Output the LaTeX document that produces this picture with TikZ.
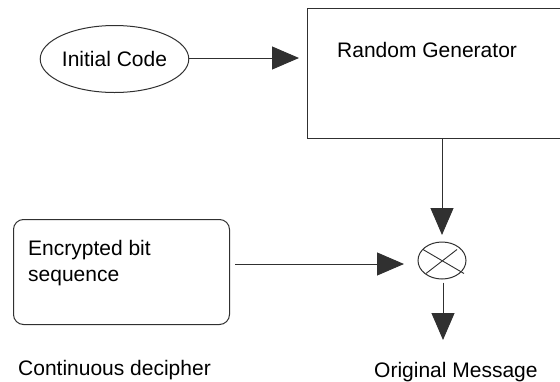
\documentclass[tikz,border=0pt]{standalone}
\usepackage{fontspec}
\setmainfont{Liberation Sans}
\usetikzlibrary{shapes.geometric,arrows.meta,calc}
\definecolor{linec}{HTML}{303030}
\tikzset{
  lbl/.style={inner sep=0pt, font=\fontsize{21pt}{26pt}\selectfont, text=black},
  conn/.style={draw=linec, line width=1pt, -{Triangle[length=27pt,width=23pt]}},
  shp/.style={draw=linec, line width=1pt}
}
\begin{document}
\begin{tikzpicture}[x=1pt,y=-1pt]
\useasboundingbox (0,0) rectangle (560,381);
\begin{scope}
\clip (0,0) rectangle (560,381);
% Initial code ellipse
\node[shp, ellipse, minimum width=135pt, minimum height=67pt, inner sep=0pt, lbl] (init) at (114.5,59) {Initial Code};
% Random generator box
\node[shp, rectangle, minimum width=262pt, minimum height=130pt, anchor=north west, inner sep=0pt] (gen) at (307,8) {};
\node[lbl, anchor=base west] (gent) at (337,57) {Random Generator};
% Encrypted bit sequence box
\node[shp, rectangle, rounded corners=10pt, minimum width=216pt, minimum height=105pt, anchor=north west, inner sep=0pt] (enc) at (13,219) {};
\node[lbl, anchor=base west] (enct1) at (28,255) {Encrypted bit};
\node[lbl, anchor=base west] (enct2) at (28,281) {sequence};
% XOR symbol
\node[shp, ellipse, minimum width=48pt, minimum height=37pt, inner sep=0pt] (xor) at (442,260.5) {};
\draw[draw=linec, line width=0.9pt] ($(xor.center)+(-19,-11)$) -- ($(xor.center)+(22,13)$);
\draw[draw=linec, line width=0.9pt] ($(xor.center)+(-16,13)$) -- ($(xor.center)+(15,-11)$);
% Bottom labels
\node[lbl, anchor=base west] (cont) at (18,375) {Continuous decipher};
\node[lbl, anchor=base west] (orig) at (374,377) {Original Message};
% connectors
\coordinate (genin) at (299,58);
\draw[conn] (init.east |- genin) -- (genin);
\coordinate (xortop) at (442,235);
\draw[conn] (gen.south -| xortop) -- (xortop);
\coordinate (xorleft) at (404,264);
\draw[conn] ($(enc.east |- xorleft)+(5,0)$) -- (xorleft);
\coordinate (msg) at (443,340);
\draw[conn] ($(xor.south -| msg)+(0,3)$) -- (msg);
\end{scope}
\end{tikzpicture}
\end{document}
